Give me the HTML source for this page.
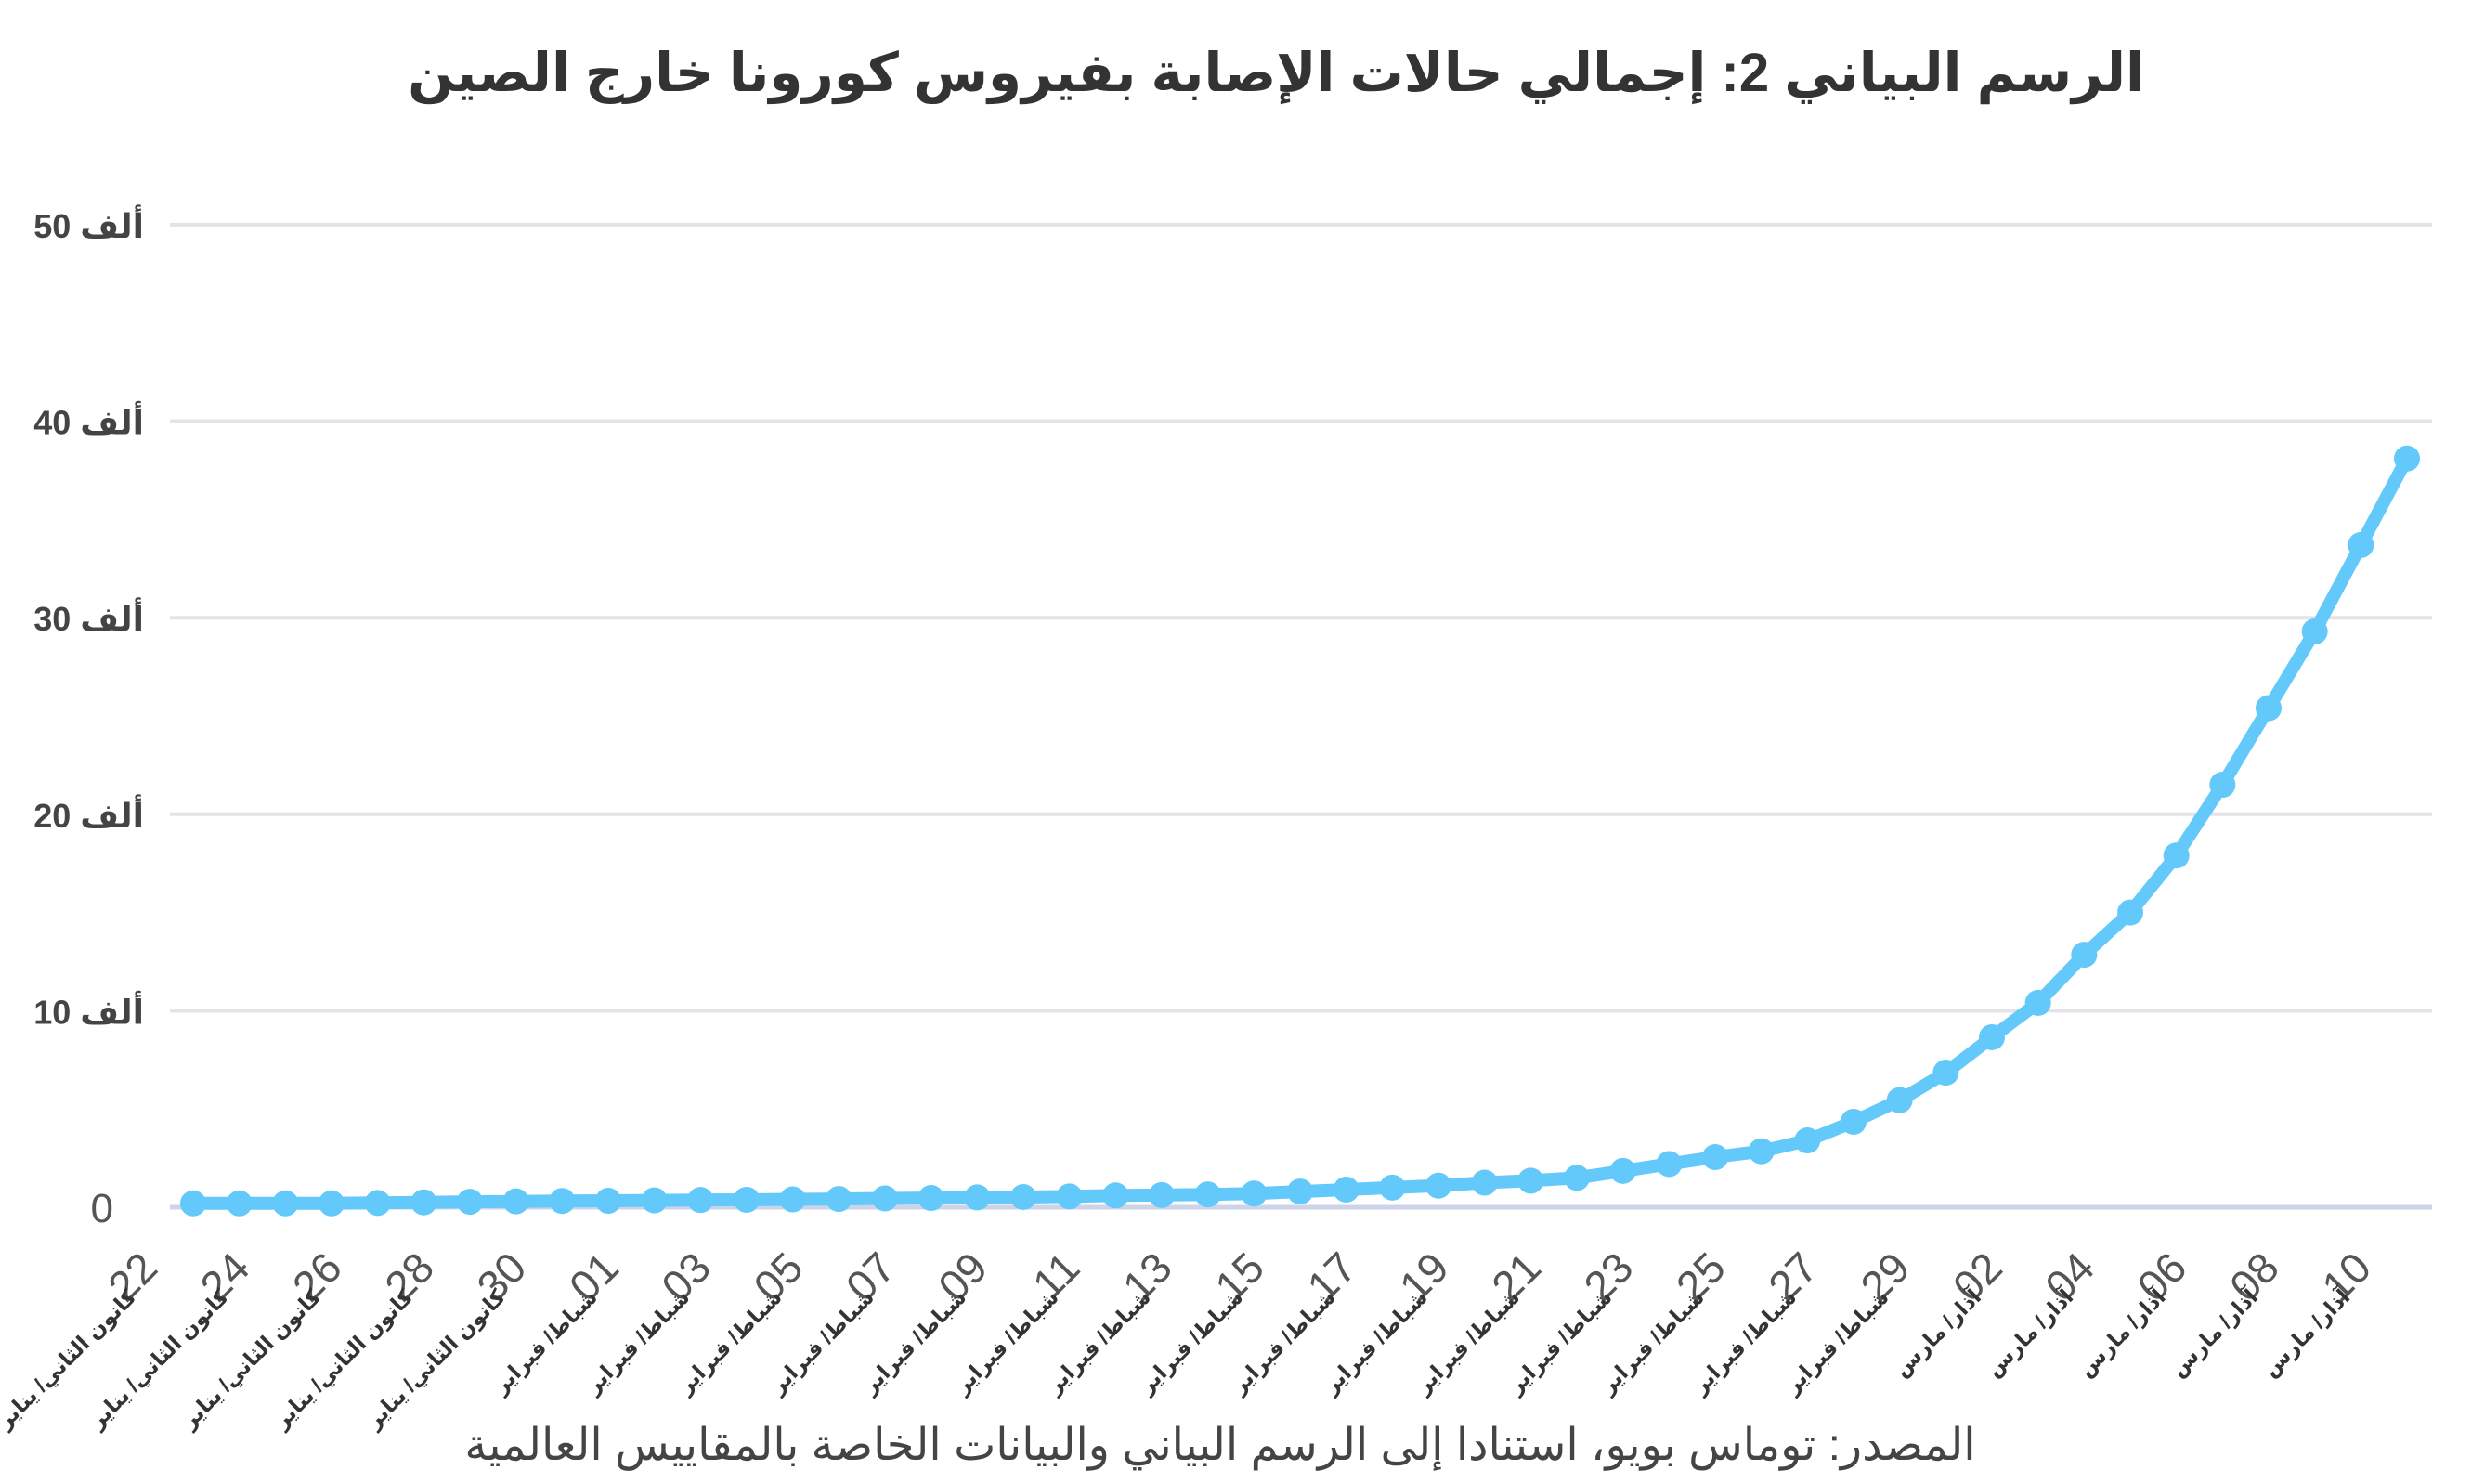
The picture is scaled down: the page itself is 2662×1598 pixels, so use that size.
<!DOCTYPE html>
<html><head><meta charset="utf-8"><style>
html,body{margin:0;padding:0;background:#fff;}
svg{display:block;font-family:"Liberation Sans","Noto Sans CJK SC","DejaVu Sans",sans-serif;}
</style></head><body>
<svg id="chart" width="2662" height="1598" viewBox="0 0 2662 1598" xmlns="http://www.w3.org/2000/svg">
<text x="1374" y="98" text-anchor="middle" font-size="58" font-weight="bold" fill="#333">الرسم البياني 2: إجمالي حالات الإصابة بفيروس كورونا خارج الصين</text>
<g id="grid"></g>
<g id="ylabels"></g>
<g id="series"></g>
<g id="xlabels"></g>
<text x="1314" y="1572" text-anchor="middle" font-size="48" fill="#444">المصدر: توماس بويو، استنادا إلى الرسم البياني والبيانات الخاصة بالمقاييس العالمية</text>
</svg>
<script>
const dayNums = ["22","23","24","25","26","27","28","29","30","31","01","02","03","04","05","06","07","08","09","10","11","12","13","14","15","16","17","18","19","20","21","22","23","24","25","26","27","28","29","01","02","03","04","05","06","07","08","09","10"];
const monthNames = ["كانون الثاني/ يناير","كانون الثاني/ يناير","كانون الثاني/ يناير","كانون الثاني/ يناير","كانون الثاني/ يناير","كانون الثاني/ يناير","كانون الثاني/ يناير","كانون الثاني/ يناير","كانون الثاني/ يناير","كانون الثاني/ يناير","شباط/ فبراير","شباط/ فبراير","شباط/ فبراير","شباط/ فبراير","شباط/ فبراير","شباط/ فبراير","شباط/ فبراير","شباط/ فبراير","شباط/ فبراير","شباط/ فبراير","شباط/ فبراير","شباط/ فبراير","شباط/ فبراير","شباط/ فبراير","شباط/ فبراير","شباط/ فبراير","شباط/ فبراير","شباط/ فبراير","شباط/ فبراير","شباط/ فبراير","شباط/ فبراير","شباط/ فبراير","شباط/ فبراير","شباط/ فبراير","شباط/ فبراير","شباط/ فبراير","شباط/ فبراير","شباط/ فبراير","شباط/ فبراير","آذار/ مارس","آذار/ مارس","آذار/ مارس","آذار/ مارس","آذار/ مارس","آذار/ مارس","آذار/ مارس","آذار/ مارس","آذار/ مارس","آذار/ مارس"];
const casesK = [0.2,0.2,0.2,0.2,0.22,0.25,0.28,0.3,0.32,0.33,0.35,0.37,0.38,0.4,0.42,0.45,0.47,0.5,0.52,0.55,0.6,0.62,0.65,0.7,0.8,0.9,1.0,1.1,1.25,1.35,1.5,1.85,2.2,2.55,2.85,3.4,4.35,5.45,6.85,8.65,10.4,12.85,15.0,17.9,21.5,25.4,29.3,33.7,38.1];
const yTicks = [0,10,20,30,40,50];
const yTickLabels = ["0","ألف 10","ألف 20","ألف 30","ألف 40","ألف 50"];

const NS="http://www.w3.org/2000/svg";
const x0=208, x1=2592, yBase=1300, yTop=242, gl=183, gr=2619;
const xs=i=>x0+i*(x1-x0)/(dayNums.length-1);
const ys=v=>yBase-v/50*(yBase-yTop);
function mk(tag,attrs,parent){const e=document.createElementNS(NS,tag);for(const k in attrs)e.setAttribute(k,attrs[k]);parent.appendChild(e);return e;}

const grid=document.getElementById('grid'), yl=document.getElementById('ylabels');
yTicks.forEach((t,i)=>{
  const ln=mk('line',{x1:gl,x2:gr,y1:ys(t),y2:ys(t),stroke:t===0?'#cdd4e8':'#e4e4e8','stroke-width':t===0?5:4},grid);
  
  
  const tx=mk('text',{x:t===0?122:155,y:ys(t)+(t===0?16:14),'text-anchor':'end','font-size':t===0?44:36,'font-weight':t===0?'normal':'bold',fill:t===0?'#555':'#444'},yl);
  tx.textContent=yTickLabels[i];
  
  
});

const ser=document.getElementById('series');
const pts=casesK.map((v,i)=>xs(i).toFixed(1)+','+ys(v).toFixed(1)).join(' ');
const pl=mk('polyline',{points:pts,fill:'none',stroke:'#63c8fa','stroke-width':14,'stroke-linejoin':'round','stroke-linecap':'round'},ser);


casesK.forEach((v,i)=>{
  const c=mk('circle',{cx:xs(i),cy:ys(v),r:14,fill:'#63c8fa'},ser);
  
  
});

const xl=document.getElementById('xlabels');
dayNums.forEach((d,i)=>{
  if(i%2) return;
  const x=xs(i);
  const g=mk('g',{},xl);
  
  
  const n=mk('text',{x:x-36,y:1368,'text-anchor':'end','font-size':46,fill:'#555',transform:`rotate(-45 ${x-36} 1368)`},g);
  n.textContent=d;
  const m=mk('text',{x:x-60,y:1398,'text-anchor':'end','font-size':23,'font-weight':'bold',fill:'#333',transform:`rotate(-45 ${x-60} 1398)`},g);
  m.textContent=monthNames[i];
});
</script>
</body></html>
